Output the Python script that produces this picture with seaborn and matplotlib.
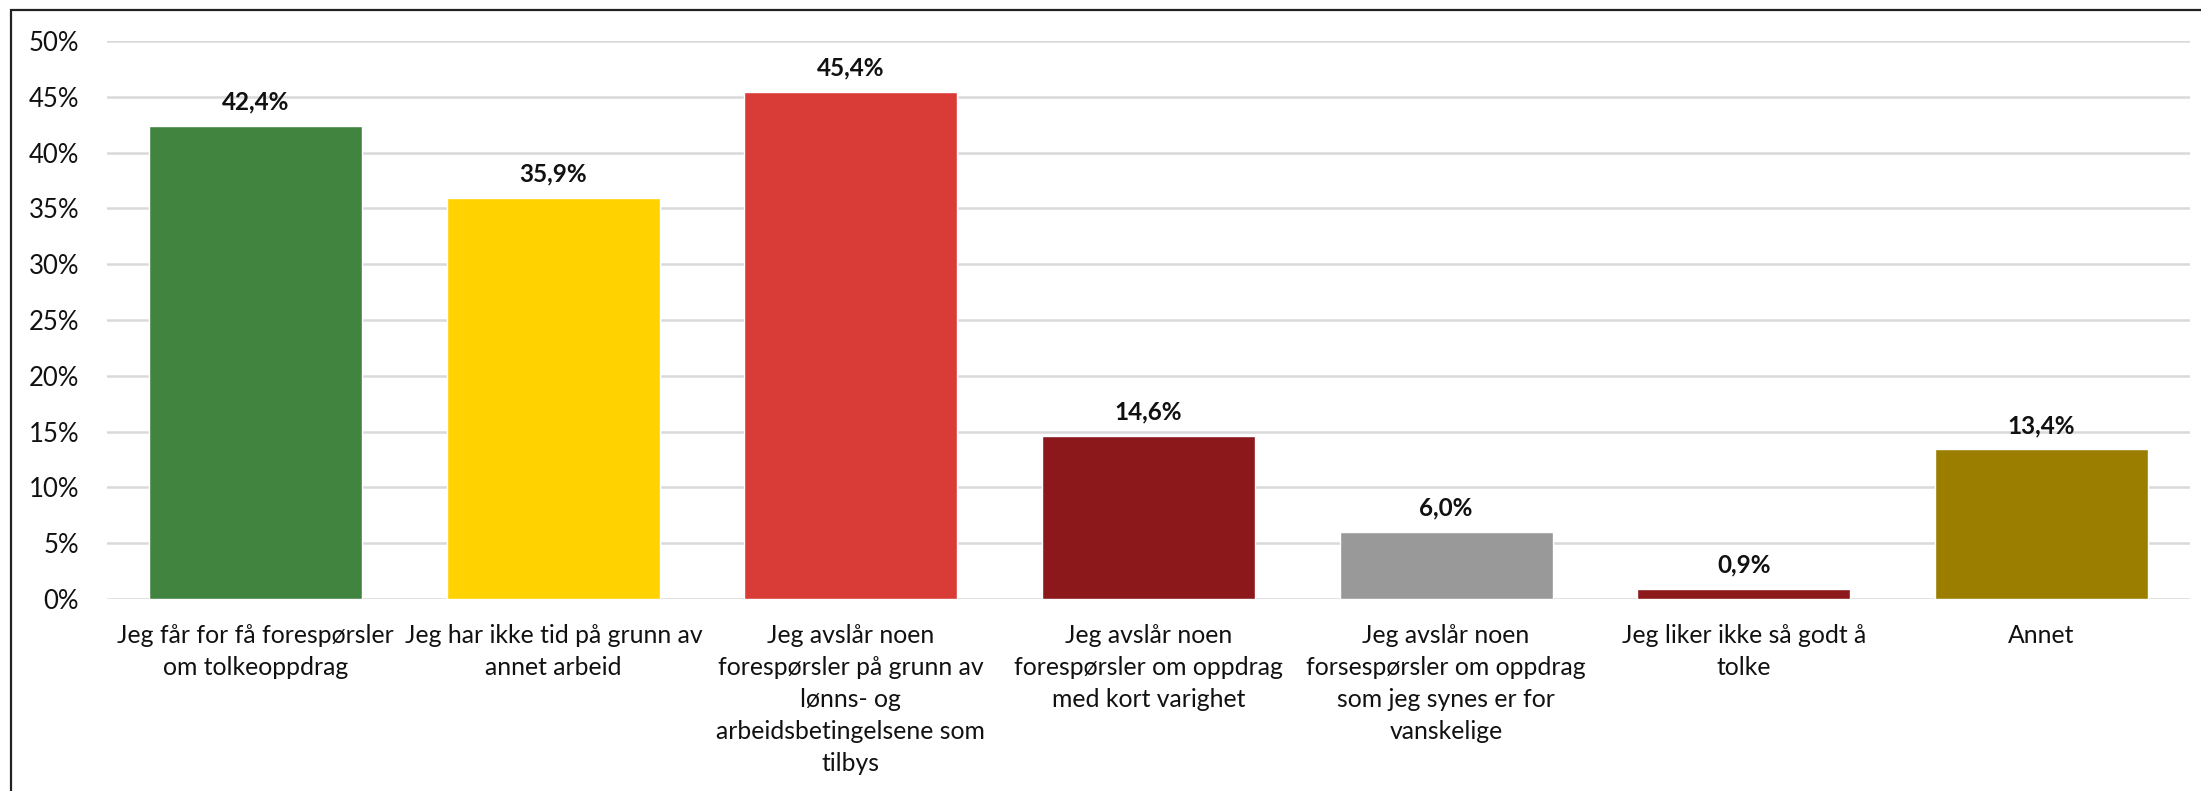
import matplotlib
matplotlib.use("Agg")
import matplotlib.pyplot as plt
import seaborn as sns
import pandas as pd
from matplotlib.patches import Rectangle

# data
categories = [
    "Jeg får for få forespørsler\nom tolkeoppdrag",
    "Jeg har ikke tid på grunn av\nannet arbeid",
    "Jeg avslår noen\nforespørsler på grunn av\nlønns- og\narbeidsbetingelsene som\ntilbys",
    "Jeg avslår noen\nforespørsler om oppdrag\nmed kort varighet",
    "Jeg avslår noen\nforsespørsler om oppdrag\nsom jeg synes er for\nvanskelige",
    "Jeg liker ikke så godt å\ntolke",
    "Annet",
]
values = [42.4, 35.9, 45.4, 14.6, 6.0, 0.9, 13.4]
colors = ["#418440", "#FFD200", "#D93B37", "#8C181B", "#999999", "#8C181B", "#9B7D00"]
yticks = [0, 5, 10, 15, 20, 25, 30, 35, 40, 45, 50]

df = pd.DataFrame({"kategori": categories, "andel": values})

sns.set_theme(style="white")
plt.rcParams["font.family"] = ["Lato", "DejaVu Sans"]

fig = plt.figure(figsize=(22.01, 7.91), dpi=100)
ax = fig.add_axes([107 / 2201, 1 - 599 / 791, (2190 - 107) / 2201, (599 - 41) / 791])

sns.barplot(data=df, x="kategori", y="andel", hue="kategori", palette=colors,
            legend=False, width=0.716, saturation=1, ax=ax)

ax.set_ylim(0, 50)
ax.set_xlim(-0.5, len(categories) - 0.5)
ax.set_yticks(yticks)
ax.set_yticklabels([f"{t}%" for t in yticks])
ax.yaxis.grid(True, color="#D9D9D9", linewidth=1.8)
ax.set_axisbelow(True)
for s in ax.spines.values():
    s.set_visible(False)
ax.tick_params(axis="both", length=0, colors="#111111")
ax.tick_params(axis="y", pad=20, labelsize=18.5)
ax.tick_params(axis="x", pad=18, labelsize=17.8)
ax.set_xlabel("")
ax.set_ylabel("")
for lab in ax.get_xticklabels():
    lab.set_linespacing(1.48)

for cont, v in zip(ax.containers, values):
    ax.bar_label(cont, labels=[f"{v:.1f}%".replace(".", ",")], padding=9,
                 fontsize=17.5, fontweight="bold", color="#111111")

# outer frame (cut off at right and bottom like the reference)
fig.patches.append(Rectangle((11 / 2201, -0.1), 1.2, 1 - 10 / 791 + 0.1,
                             transform=fig.transFigure, fill=False,
                             edgecolor="#222222", linewidth=1.6))

fig.savefig("out.png", dpi=100)
